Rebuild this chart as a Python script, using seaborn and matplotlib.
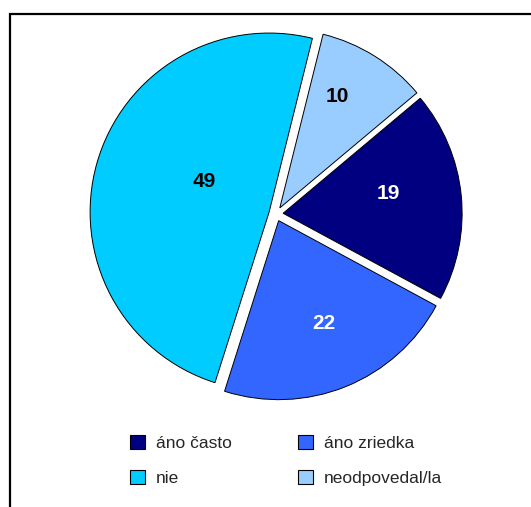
import matplotlib
matplotlib.use("Agg")
import matplotlib.pyplot as plt
import matplotlib.patches as mpatches
from matplotlib import font_manager
import numpy as np
import seaborn as sns

# Survey answers and their shares (%)
categories = ["áno často", "áno zriedka", "nie", "neodpovedal/la"]
values = [19, 22, 49, 10]
colors = ["#000080", "#3366FF", "#00CCFF", "#99CCFF"]
label_colors = ["white", "white", "black", "black"]

sns.set_theme(style="white")
plt.rcParams["font.family"] = ["Liberation Sans", "DejaVu Sans"]

names = {f.name for f in font_manager.fontManager.ttflist}
num_family = "Liberation Sans Narrow" if "Liberation Sans Narrow" in names else "Liberation Sans"

W, H = 531, 507
fig = plt.figure(figsize=(W / 100, H / 100), dpi=100)
fig.patch.set_facecolor("white")

# pie axes: center at (276, 214) px, radius 179 px
R = 179
cx, cy = 276, 214
half = 1.1 * R
ax = fig.add_axes([(cx - half) / W, (H - cy - half) / H, 2 * half / W, 2 * half / H])

wedges, _ = ax.pie(
    values,
    colors=colors,
    startangle=40,
    counterclock=False,
    explode=[0.04] * len(values),
    radius=1.0,
    wedgeprops=dict(edgecolor="black", linewidth=0.7),
)
ax.set_xlim(-1.1, 1.1)
ax.set_ylim(-1.1, 1.1)
ax.set_aspect("equal")
ax.axis("off")

# value labels inside each wedge (radial distance, angular nudge in degrees)
label_radius = [0.60, 0.63, 0.40, 0.70]
label_nudge = [4.7, 1.8, -9.7, 4.7]
for w, v, c, r, d in zip(wedges, values, label_colors, label_radius, label_nudge):
    mid = np.deg2rad((w.theta1 + w.theta2) / 2 + d)
    x = w.center[0] + r * np.cos(mid)
    y = w.center[1] + r * np.sin(mid)
    ax.text(x, y, str(v), ha="center", va="center", color=c,
            fontsize=15, fontweight="bold", family=num_family)

# legend below the pie, filled row by row
handles = [mpatches.Patch(facecolor=c, edgecolor="black", linewidth=0.8) for c in colors]
order = [0, 2, 1, 3]
fig.legend([handles[i] for i in order], [categories[i] for i in order],
           ncol=2, frameon=False,
           loc="upper left", bbox_to_anchor=(114 / W, 1 - 419 / H),
           fontsize=12.5, handlelength=0.9, handleheight=0.9,
           handletextpad=0.6, columnspacing=3.8, labelspacing=1.1)

# chart frame (runs off the right and bottom edges)
frame = mpatches.Rectangle((9.5 / W, 0 - 0.1), 1.0, 1 - 13.5 / H + 0.1,
                           transform=fig.transFigure, fill=False,
                           edgecolor="black", linewidth=1.6, clip_on=False)
fig.patches.append(frame)

fig.savefig("out.png", dpi=100)
